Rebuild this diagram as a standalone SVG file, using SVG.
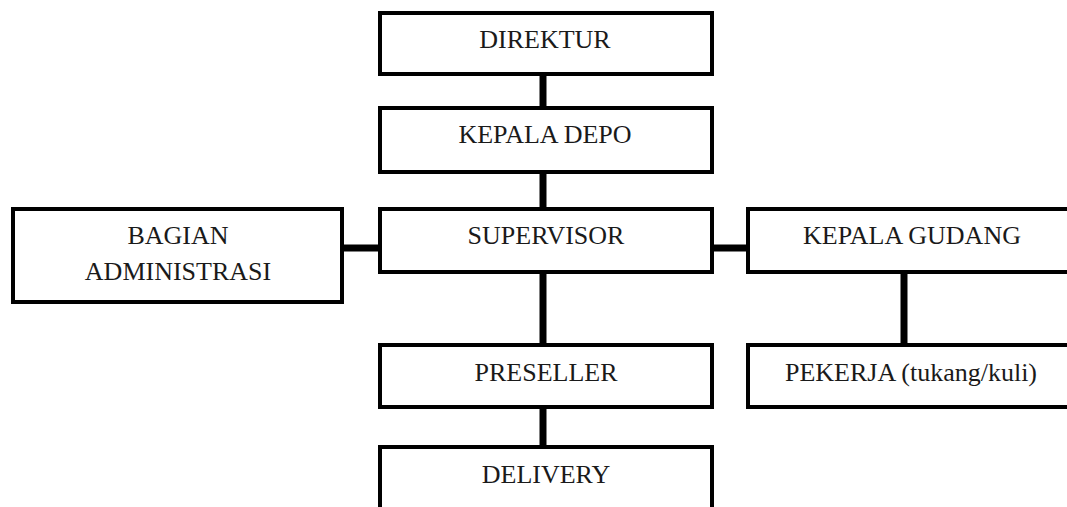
<svg xmlns="http://www.w3.org/2000/svg" width="1067" height="507" viewBox="0 0 1067 507">
<style>
.box{fill:#fff;stroke:#000;stroke-width:4}
.t{font-family:"Liberation Serif","Times New Roman",serif;font-size:26px;fill:#1a1a1a;text-anchor:middle}
.c{stroke:#000;stroke-width:7;fill:none}
</style>
<rect width="1067" height="507" fill="#fff"/>
<g id="connectors">
<line class="c" x1="543" y1="74" x2="543" y2="108"/>
<line class="c" x1="543" y1="172" x2="543" y2="209"/>
<line class="c" x1="543" y1="272" x2="543" y2="345"/>
<line class="c" x1="543" y1="407" x2="543" y2="447"/>
<line class="c" x1="342" y1="248" x2="380" y2="248"/>
<line class="c" x1="712" y1="248" x2="748" y2="248"/>
<line class="c" x1="904" y1="272" x2="904" y2="345"/>
</g>
<g id="direktur"><rect class="box" x="380" y="13" width="332" height="61"/><text class="t" x="545" y="48">DIREKTUR</text></g>
<g id="kepala-depo"><rect class="box" x="380" y="108" width="332" height="64"/><text class="t" x="545" y="143">KEPALA DEPO</text></g>
<g id="supervisor"><rect class="box" x="380" y="209" width="332" height="63"/><text class="t" x="546" y="244">SUPERVISOR</text></g>
<g id="bagian-administrasi"><rect class="box" x="13" y="209" width="329" height="93"/><text class="t" x="178" y="244">BAGIAN</text><text class="t" x="178" y="280">ADMINISTRASI</text></g>
<g id="kepala-gudang"><rect class="box" x="748" y="209" width="330" height="63"/><text class="t" x="912" y="244">KEPALA GUDANG</text></g>
<g id="preseller"><rect class="box" x="380" y="345" width="332" height="62"/><text class="t" x="546" y="381">PRESELLER</text></g>
<g id="pekerja"><rect class="box" x="748" y="345" width="330" height="62"/><text class="t" x="911" y="381">PEKERJA (tukang/kuli)</text></g>
<g id="delivery"><rect class="box" x="380" y="447" width="332" height="66"/><text class="t" x="546" y="483">DELIVERY</text></g>
</svg>
